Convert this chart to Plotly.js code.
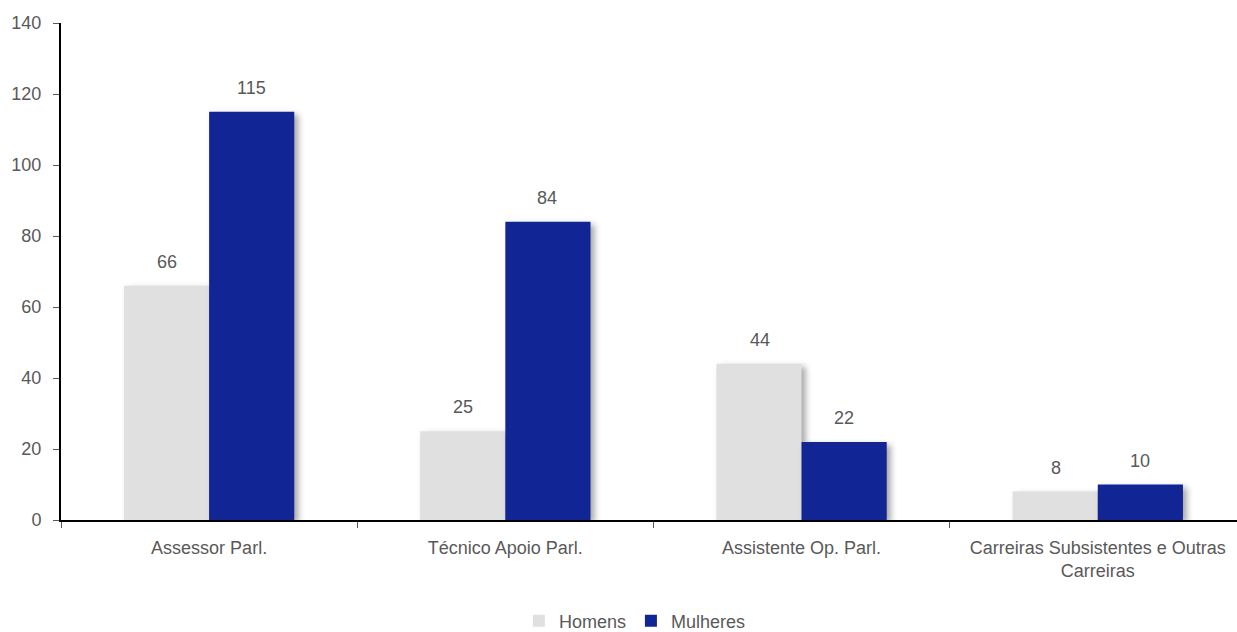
<!DOCTYPE html>
<html><head><meta charset="utf-8">
<script src="https://cdn.plot.ly/plotly-3.0.1.min.js"></script>
<style>
html,body{margin:0;padding:0;background:#fff;}
.barlayer .trace .point path{filter:drop-shadow(4px 3px 3px rgba(0,0,0,0.35));}
</style>
</head><body>
<div id="chart" style="width:1237px;height:632px;"></div>
<script>
const categories = ["Assessor Parl.", "Técnico Apoio Parl.", "Assistente Op. Parl.", "Carreiras Subsistentes e Outras<br>Carreiras"];
const homens = [66, 25, 44, 8];
const mulheres = [115, 84, 22, 10];
const seriesNames = ["Homens", "Mulheres"];
const yTicks = [0, 20, 40, 60, 80, 100, 120, 140];

const font = {family: "Liberation Sans, Arial, sans-serif", size: 18, color: "#595959"};

const traces = [
  {type: "bar", name: seriesNames[0], x: categories, y: homens, marker: {color: "#e0e0e0"}, hoverinfo: "none"},
  {type: "bar", name: seriesNames[1], x: categories, y: mulheres, marker: {color: "#112595"}, hoverinfo: "none"}
];

const annotations = [];
[homens, mulheres].forEach((vals, s) => {
  vals.forEach((v, i) => {
    annotations.push({x: categories[i], y: v, text: String(v), showarrow: false,
      xref: "x", yref: "y", yanchor: "bottom", yshift: 12, xshift: s === 0 ? -42 : 42,
      font: font});
  });
});

const layout = {
  width: 1237, height: 632,
  margin: {l: 61, r: 0, t: 23, b: 112, autoexpand: false},
  paper_bgcolor: "#fff", plot_bgcolor: "#fff",
  font: font,
  barmode: "group", bargap: 0.425, bargroupgap: 0,
  showlegend: true,
  legend: {orientation: "h", x: 0.488, xanchor: "center", y: -0.166, yanchor: "top", font: font, itemwidth: 30, tracegroupgap: 0},
  xaxis: {type: "category", range: [-0.5, 3.47], showline: true, linecolor: "#000", linewidth: 2,
    ticks: "outside", tickson: "boundaries", ticklen: 6, tickcolor: "#595959", tickfont: font, ticklabelstandoff: 10,
    showgrid: false, zeroline: false, fixedrange: true, automargin: false},
  yaxis: {range: [0, 140], tickvals: yTicks, showline: true, linecolor: "#000", linewidth: 2,
    ticks: "outside", ticklen: 6, tickcolor: "#595959", tickfont: font, ticklabelstandoff: 8,
    showgrid: false, zeroline: false, fixedrange: true, automargin: false},
  annotations: annotations
};
Plotly.newPlot("chart", traces, layout, {displayModeBar: false, staticPlot: true});
</script>
</body></html>
